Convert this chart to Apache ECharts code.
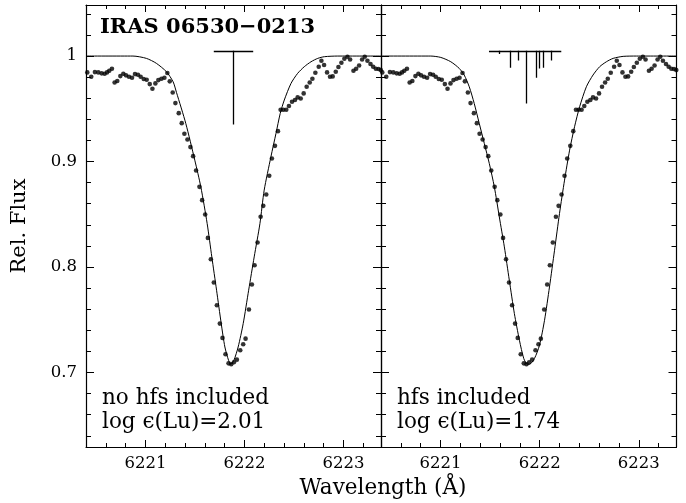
<!DOCTYPE html>
<html><head><meta charset="utf-8">
<script src="https://cdn.jsdelivr.net/npm/echarts@6/dist/echarts.min.js"></script>
<style>html,body{margin:0;padding:0;background:#fff}#c{width:686px;height:503px}</style>
</head><body><div id="c"></div>
<script>
// Observed spectrum (same in both panels)
const obsWave = [6220.413,6220.453,6220.490,6220.524,6220.558,6220.588,6220.612,6220.635,6220.662,6220.689,
6220.716,6220.747,6220.777,6220.804,6220.834,6220.865,6220.895,6220.925,6220.952,6220.983,
6221.013,6221.044,6221.071,6221.101,6221.131,6221.162,6221.192,6221.222,6221.246,6221.276,
6221.303,6221.337,6221.367,6221.394,6221.425,6221.455,6221.482,6221.512,6221.546,6221.573,
6221.604,6221.631,6221.661,6221.691,6221.722,6221.752,6221.779,6221.809,6221.840,6221.867,
6221.894,6221.924,6221.958,6221.988,6222.012,6222.046,6222.076,6222.103,6222.133,6222.164,
6222.191,6222.221,6222.251,6222.278,6222.309,6222.339,6222.366,6222.393,6222.423,6222.450,
6222.481,6222.511,6222.538,6222.569,6222.599,6222.629,6222.660,6222.687,6222.717,6222.751,
6222.778,6222.805,6222.835,6222.865,6222.892,6222.923,6222.950,6222.980,6223.010,6223.041,
6223.068,6223.102,6223.129,6223.159,6223.189,6223.216,6223.243,6223.274,6223.301,6223.328,
6223.355,6223.378];
const obsFlux = [0.9845,0.9804,0.9848,0.9845,0.9836,0.9832,0.9845,0.9861,0.9880,0.9750,
0.9763,0.9810,0.9832,0.9817,0.9804,0.9794,0.9829,0.9823,0.9804,0.9782,
0.9775,0.9734,0.9690,0.9741,0.9772,0.9785,0.9794,0.9839,0.9760,0.9655,
0.9554,0.9459,0.9364,0.9263,0.9209,0.9137,0.9051,0.8915,0.8760,0.8634,
0.8498,0.8276,0.8074,0.7853,0.7638,0.7464,0.7328,0.7173,0.7087,0.7078,
0.7097,0.7122,0.7211,0.7268,0.7321,0.7597,0.7834,0.8017,0.8232,0.8476,
0.8580,0.8688,0.8865,0.9029,0.9149,0.9288,0.9491,0.9491,0.9491,0.9526,
0.9567,0.9583,0.9608,0.9598,0.9646,0.9709,0.9750,0.9785,0.9842,0.9899,
0.9956,0.9915,0.9845,0.9804,0.9807,0.9851,0.9896,0.9937,0.9975,0.9994,
0.9968,0.9861,0.9880,0.9911,0.9968,0.9994,0.9956,0.9924,0.9899,0.9880,
0.9877,0.9867];

// Synthetic spectrum, no hfs (left panel)
const synLeftWave = [6220.40,6220.874,6221.010,6221.111,6221.213,6221.280,6221.314,6221.408,6221.499,6221.560,
6221.624,6221.671,6221.719,6221.766,6221.803,6221.840,6221.863,6221.894,6221.937,6221.988,
6222.043,6222.099,6222.157,6222.200,6222.268,6222.319,6222.362,6222.403,6222.471,6222.538,
6222.605,6222.673,6222.741,6222.808,6222.943,6223.38];
const synLeftFlux = [1.0,1.0,0.9978,0.9931,0.9851,0.9756,0.9655,0.9361,0.9013,0.8760,
0.8412,0.8096,0.7780,0.7464,0.7242,0.7116,0.7078,0.7116,0.7242,0.7464,
0.7780,0.8096,0.8412,0.8729,0.9045,0.9266,0.9456,0.9583,0.9741,0.9836,
0.9899,0.9946,0.9978,0.9994,1.0,1.0];

// Synthetic spectrum, hfs included (right panel)
const synRightWave = [6220.40,6220.902,6221.003,6221.104,6221.189,6221.239,6221.290,6221.340,6221.391,6221.442,
6221.492,6221.543,6221.593,6221.644,6221.694,6221.745,6221.796,6221.840,6221.877,6221.897,
6221.947,6221.998,6222.049,6222.099,6222.150,6222.200,6222.251,6222.302,6222.352,6222.403,
6222.471,6222.538,6222.605,6222.673,6222.741,6222.842,6222.977,6223.38];
const synRightFlux = [1.0,1.0,0.9987,0.9946,0.9883,0.9820,0.9709,0.9551,0.9361,0.9171,
0.8982,0.8760,0.8476,0.8191,0.7875,0.7559,0.7306,0.7132,0.7078,0.7078,
0.7132,0.7258,0.7495,0.7811,0.8159,0.8507,0.8824,0.9108,0.9330,0.9519,
0.9709,0.9820,0.9899,0.9946,0.9978,0.9997,1.0,1.0];

// Line position markers
const markerLevel = 1.005;
const singleBar = [6221.691, 6222.089];
const singleWave = [6221.887];
const singleDepth = [0.935];
const hfsBar = [6221.489, 6222.218];
const hfsWave = [6221.590,6221.701,6221.785,6221.863,6221.965,6221.992,6222.035,6222.113];
const hfsDepth = [1.0019,0.9889,0.9959,0.9551,0.9794,0.9883,0.9889,0.9959];

// Tick labels
const xTickLabels = ['6221','6222','6223'];
const yTickLabels = ['0.7','0.8','0.9','1'];

const FONT = 'DejaVu Serif';
const chart = echarts.init(document.getElementById('c'), null, {renderer:'canvas'});
const zip = (a,b) => a.map((v,i)=>[v,b[i]]);
const segs = (bar, waves, depths) => {
  const d = [{coords:[[bar[0],markerLevel],[bar[1],markerLevel]]}];
  waves.forEach((w,i)=>d.push({coords:[[w,markerLevel],[w,depths[i]]]}));
  return d;
};
const lineStyle = {color:'#000', width:1};
function xAx(g, pos, labels){
  return {gridIndex:g, type:'value', position:pos, min:6220.4, max:6223.38, splitNumber:3,
    axisLine:{show:true, onZero:false, lineStyle:{color:'#000', width:1.2}},
    axisTick:{show:true, inside:true, length:7, lineStyle:lineStyle},
    minorTick:{show:true, splitNumber:5, length:4, lineStyle:lineStyle},
    splitLine:{show:false},
    axisLabel:{show:labels, margin:8, color:'#000', fontFamily:FONT, fontSize:16.5,
      showMinLabel:false, showMaxLabel:false,
      formatter:v=>{const s=String(Math.round(v*1000)/1000); return xTickLabels.includes(s)?s:'';}}};
}
function yAx(g, pos, labels){
  return {gridIndex:g, type:'value', position:pos, min:0.6294, max:1.0484,
    axisLine:{show:true, onZero:false, lineStyle:{color:'#000', width:1.2}},
    axisTick:{show:true, inside:true, length:8, lineStyle:lineStyle},
    minorTick:{show:true, splitNumber:5, length:5, lineStyle:lineStyle},
    splitLine:{show:false},
    axisLabel:{show:labels, margin:9, color:'#000', fontFamily:FONT, fontSize:16.5,
      showMinLabel:false, showMaxLabel:false,
      formatter:v=>{const s=String(Math.round(v*1000)/1000); return yTickLabels.includes(s)?s:'';}}};
}
const option = {
  animation:false,
  backgroundColor:'#fff',
  grid:[{left:86, top:5, width:295, height:442},{left:381, top:5, width:295.5, height:442}],
  xAxis:[xAx(0,'bottom',true), xAx(1,'bottom',true), xAx(0,'top',false), xAx(1,'top',false)],
  yAxis:[yAx(0,'left',true), yAx(1,'left',false), yAx(0,'right',false), yAx(1,'right',false)],
  series:[
    {type:'line', xAxisIndex:0, yAxisIndex:0, data:zip(synLeftWave,synLeftFlux), showSymbol:false, smooth:0.25,
      lineStyle:{color:'#000', width:1}, z:2},
    {type:'line', xAxisIndex:1, yAxisIndex:1, data:zip(synRightWave,synRightFlux), showSymbol:false, smooth:0.25,
      lineStyle:{color:'#000', width:1}, z:2},
    {type:'scatter', xAxisIndex:0, yAxisIndex:0, data:zip(obsWave,obsFlux), symbolSize:4.6, itemStyle:{color:'#000'}, z:3},
    {type:'scatter', xAxisIndex:1, yAxisIndex:1, data:zip(obsWave,obsFlux), symbolSize:4.6, itemStyle:{color:'#000'}, z:3},
    {type:'lines', coordinateSystem:'cartesian2d', xAxisIndex:0, yAxisIndex:0, data:segs(singleBar,singleWave,singleDepth),
      lineStyle:{color:'#000', width:1.3, opacity:1}},
    {type:'lines', coordinateSystem:'cartesian2d', xAxisIndex:1, yAxisIndex:1, data:segs(hfsBar,hfsWave,hfsDepth),
      lineStyle:{color:'#000', width:1.3, opacity:1}}
  ],
  graphic:[
    {type:'text', left:100, top:17, style:{text:'IRAS 06530\u22120213', font:'bold 21px "DejaVu Serif"', fill:'#000'}},
    {type:'text', x:102, y:398, style:{text:'no hfs included', font:'21.5px "DejaVu Serif"', fill:'#000', verticalAlign:'middle'}},
    {type:'text', x:102, y:422, style:{text:'log \u03f5(Lu)=2.01', font:'21.5px "DejaVu Serif"', fill:'#000', verticalAlign:'middle'}},
    {type:'text', x:397, y:398, style:{text:'hfs included', font:'21.5px "DejaVu Serif"', fill:'#000', verticalAlign:'middle'}},
    {type:'text', x:397, y:422, style:{text:'log \u03f5(Lu)=1.74', font:'21.5px "DejaVu Serif"', fill:'#000', verticalAlign:'middle'}},
    {type:'text', x:20, y:226, rotation:Math.PI/2, style:{text:'Rel. Flux', font:'21px "DejaVu Serif"', fill:'#000', align:'center', verticalAlign:'middle'}},
    {type:'text', x:383, y:488, style:{text:'Wavelength (\u00c5)', font:'21.5px "DejaVu Serif"', fill:'#000', align:'center', verticalAlign:'middle'}}
  ]
};
chart.setOption(option);
</script></body></html>
